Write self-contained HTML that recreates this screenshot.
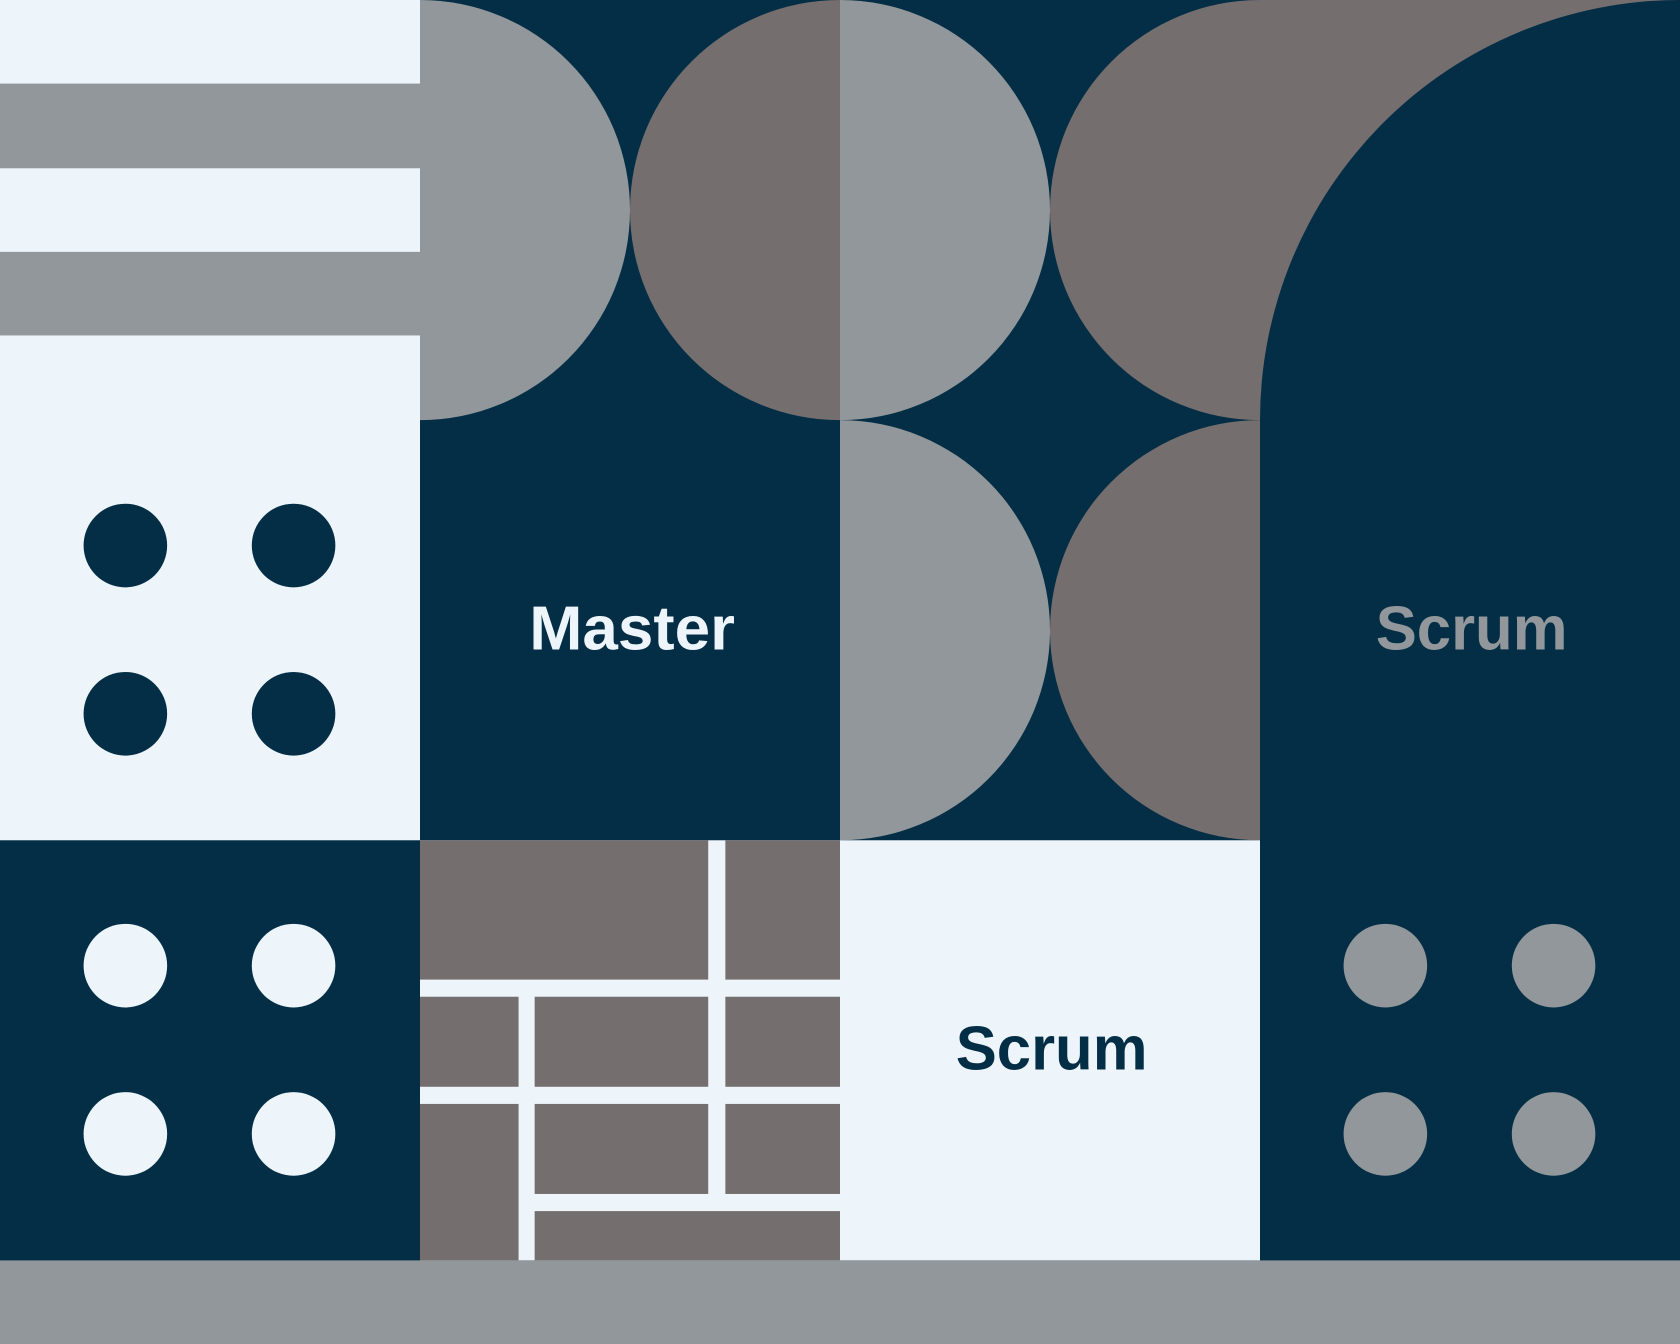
<!DOCTYPE html>
<html><head><meta charset="utf-8"><style>html,body{margin:0;padding:0;background:#032e45}svg{display:block}</style></head>
<body>
<svg width="1680" height="1344" viewBox="0 0 1568 1254" preserveAspectRatio="none" xmlns="http://www.w3.org/2000/svg">
<rect x="0" y="0" width="1568" height="1254" fill="#032e45"/>
<rect x="0" y="0" width="392" height="784" fill="#edf5fb"/>
<rect x="0" y="78" width="392" height="79" fill="#91979a"/>
<rect x="0" y="235" width="392" height="78" fill="#91979a"/>
<path d="M392,0 A196,196 0 0 1 392,392 Z" fill="#91979a"/>
<path d="M784,0 A196,196 0 0 0 784,392 Z" fill="#746e6e"/>
<path d="M784,0 A196,196 0 0 1 784,392 Z" fill="#91979a"/>
<path d="M1176,0 A196,196 0 0 0 1176,392 Z" fill="#746e6e"/>
<rect x="1176" y="0" width="392" height="392" fill="#746e6e"/>
<path d="M1176,393 A392,392 0 0 1 1568,0 L1568,393 Z" fill="#032e45"/>
<g fill="#032e45"><circle cx="117" cy="509" r="39"/><circle cx="274" cy="509" r="39"/><circle cx="117" cy="666" r="39"/><circle cx="274" cy="666" r="39"/></g>
<text x="494" y="606" textLength="192" lengthAdjust="spacingAndGlyphs" font-family="Liberation Sans, sans-serif" font-weight="bold" font-size="58" fill="#edf5fb">Master</text>
<path d="M784,392 A196,196 0 0 1 784,784 Z" fill="#91979a"/>
<path d="M1176,392 A196,196 0 0 0 1176,784 Z" fill="#746e6e"/>
<text x="1284" y="606" textLength="179" lengthAdjust="spacingAndGlyphs" font-family="Liberation Sans, sans-serif" font-weight="bold" font-size="58" fill="#91979a">Scrum</text>
<g fill="#edf5fb"><circle cx="117" cy="901" r="39"/><circle cx="274" cy="901" r="39"/><circle cx="117" cy="1058" r="39"/><circle cx="274" cy="1058" r="39"/></g>
<rect x="392" y="784" width="392" height="392" fill="#edf5fb"/>
<g fill="#746e6e">
<rect x="392" y="784" width="269" height="130"/><rect x="677" y="784" width="107" height="130"/>
<rect x="392" y="930" width="92" height="84"/><rect x="499" y="930" width="162" height="84"/><rect x="677" y="930" width="107" height="84"/>
<rect x="392" y="1030" width="92" height="146"/><rect x="499" y="1030" width="162" height="84"/><rect x="677" y="1030" width="107" height="84"/>
<rect x="499" y="1130" width="285" height="46"/>
</g>
<rect x="784" y="784" width="392" height="392" fill="#edf5fb"/>
<text x="892" y="998" textLength="179" lengthAdjust="spacingAndGlyphs" font-family="Liberation Sans, sans-serif" font-weight="bold" font-size="58" fill="#032e45">Scrum</text>
<g fill="#91979a"><circle cx="1293" cy="901" r="39"/><circle cx="1450" cy="901" r="39"/><circle cx="1293" cy="1058" r="39"/><circle cx="1450" cy="1058" r="39"/></g>
<rect x="0" y="1176" width="1568" height="78" fill="#91979a"/>
</svg>
</body></html>
